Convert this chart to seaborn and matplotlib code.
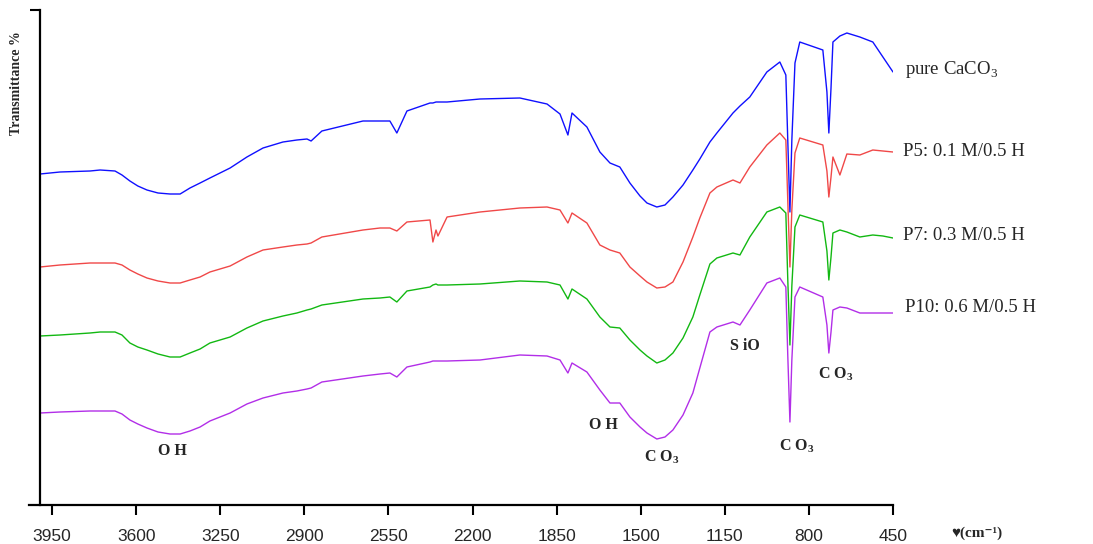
import numpy as np
import pandas as pd
import matplotlib
matplotlib.use("Agg")
import matplotlib.pyplot as plt
import seaborn as sns

# ---------------- data ----------------
wavenumber = [4000, 3917, 3792, 3750, 3688, 3659, 3626, 3593, 3555, 3509,
              3459, 3417, 3376, 3334, 3293, 3251, 3209, 3139, 3072, 2989,
              2931, 2889, 2872, 2827, 2656, 2585, 2544, 2515, 2473, 2377,
              2365, 2352, 2344, 2306, 2169, 2003, 1890, 1836, 1803, 1786,
              1724, 1670, 1628, 1587, 1545, 1503, 1474, 1433, 1399, 1366,
              1324, 1283, 1254, 1212, 1183, 1116, 1087, 1046, 975, 921,
              896, 888, 879, 871, 858, 838, 742, 725, 717, 708,
              700, 671, 642, 588, 534, 492, 450]

pure_caco3 = [331, 333, 334, 335, 334, 330, 324, 319, 315, 312,
              311, 311, 317, 322, 327, 332, 337, 348, 357, 363,
              365, 366, 364, 374, 384, 384, 384, 372, 394, 402,
              402, 403, 403, 403, 406, 407, 401, 391, 370, 392,
              378, 353, 342, 338, 322, 309, 302, 298, 300, 308,
              320, 335, 346, 363, 372, 392, 399, 408, 433, 443,
              430, 365, 293, 365, 442, 463, 455, 413, 372, 417,
              463, 469, 472, 468, 463, 448, 433]

p5 = [238, 240, 242, 242, 242, 240, 235, 231, 227, 224,
      222, 222, 225, 228, 233, 236, 239, 248, 255, 258,
      260, 261, 262, 268, 275, 277, 277, 274, 283, 285,
      263, 275, 269, 288, 293, 297, 298, 295, 282, 292,
      282, 260, 255, 252, 238, 229, 223, 217, 218, 223,
      243, 268, 287, 312, 318, 325, 322, 338, 360, 372,
      365, 305, 238, 295, 352, 367, 360, 334, 308, 328,
      348, 330, 351, 350, 355, 354, 353]

p7 = [169, 170, 172, 173, 173, 170, 162, 158, 155, 151,
      148, 148, 152, 156, 162, 165, 168, 177, 184, 189,
      192, 195, 196, 200, 206, 207, 208, 203, 214, 218,
      220, 221, 220, 220, 221, 224, 223, 220, 206, 216,
      206, 188, 178, 177, 165, 155, 149, 142, 145, 152,
      167, 188, 210, 241, 247, 252, 250, 268, 293, 298,
      292, 226, 160, 219, 278, 290, 283, 254, 225, 248,
      272, 275, 273, 268, 270, 269, 267]

p10 = [92, 93, 94, 94, 94, 91, 85, 81, 77, 73,
       71, 71, 74, 78, 84, 88, 92, 101, 107, 112,
       114, 116, 117, 123, 129, 131, 132, 128, 138, 143,
       144, 144, 144, 144, 145, 150, 149, 145, 132, 142,
       133, 115, 102, 102, 88, 78, 72, 66, 68, 75,
       90, 112, 137, 173, 178, 183, 180, 195, 222, 227,
       218, 150, 83, 145, 208, 218, 208, 180, 152, 173,
       195, 198, 197, 192, 192, 192, 192]

series_names = ["pure CaCO$_3$", "P5: 0.1 M/0.5 H", "P7: 0.3 M/0.5 H", "P10: 0.6 M/0.5 H"]
series_values = [pure_caco3, p5, p7, p10]
series_colors = ["#1010ff", "#f04848", "#12b812", "#b22ee8"]

x_ticks = [3950, 3600, 3250, 2900, 2550, 2200, 1850, 1500, 1150, 800, 450]

band_labels = ["O H", "O H", "C O$_\\mathbf{3}$", "C O$_\\mathbf{3}$", "S iO", "C O$_\\mathbf{3}$"]

# ---------------- long-form table ----------------
frames = []
for name, vals in zip(series_names, series_values):
    assert len(vals) == len(wavenumber)
    frames.append(pd.DataFrame({"wavenumber": wavenumber, "T": vals, "sample": name}))
df = pd.concat(frames, ignore_index=True)

# ---------------- figure ----------------
sns.set_style("ticks")
plt.rcParams["mathtext.fontset"] = "custom"
plt.rcParams["mathtext.rm"] = "Liberation Serif"
plt.rcParams["mathtext.bf"] = "Liberation Serif:bold"
plt.rcParams["font.family"] = ["Liberation Serif", "DejaVu Sans"]

W, H = 1093, 544
fig = plt.figure(figsize=(W / 100, H / 100), dpi=100)
ax = fig.add_axes([29 / W, 1 - 505 / H, (893 - 29) / W, 495 / H])

sns.lineplot(data=df, x="wavenumber", y="T", hue="sample", hue_order=series_names,
             palette=dict(zip(series_names, series_colors)), estimator=None,
             sort=True, linewidth=1.0, legend=False, ax=ax)

ax.set_xlim(4046, 450)
ax.set_ylim(0, 495)
ax.set_xlabel("")
ax.set_ylabel("")

for s in ["top", "right"]:
    ax.spines[s].set_visible(False)
ax.spines["left"].set_position(("data", 4000))
for s in ["left", "bottom"]:
    ax.spines[s].set_linewidth(1.6)
    ax.spines[s].set_color("black")

ax.set_xticks(x_ticks)
ax.set_xticklabels([str(t) for t in x_ticks], fontfamily="Liberation Sans", fontsize=12.5)
ax.tick_params(axis="x", direction="out", length=7, width=1.5, color="black", pad=10)
ax.set_yticks([495])
ax.set_yticklabels([""])
ax.tick_params(axis="y", direction="out", length=7, width=1.5, color="black")

# series labels on the right
label_y = [435, 353, 270, 197]
label_x = [401, 409, 409, 401]
for name, lx, ly in zip(series_names, label_x, label_y):
    ax.text(lx, ly, name, ha="left", va="center", fontsize=13.5,
            fontfamily="Liberation Serif", clip_on=False)

# band annotations
band_x = [3451, 1657, 1412, 850, 1067, 688]
band_y = [54, 80, 48, 59, 159, 131]
for txt, bx, by in zip(band_labels, band_x, band_y):
    ax.text(bx, by, txt, ha="center", va="center", fontsize=11.5,
            fontweight="bold", fontfamily="Liberation Serif")

# axis titles
fig.text(17 / W, 1 - 83 / H, "Transmittance %", rotation=90, ha="center", va="center",
         fontsize=10, fontweight="bold", fontfamily="Liberation Serif")
fig.text(951 / W, 1 - 533 / H, "♥(cm⁻¹)", ha="left", va="center",
         fontsize=11, fontweight="bold", family=["Liberation Serif", "DejaVu Sans"])

fig.savefig("out.png", dpi=100)
